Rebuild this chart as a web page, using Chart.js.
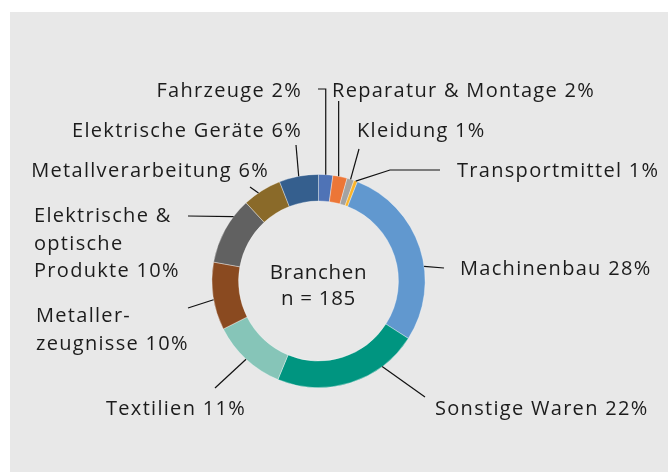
<!DOCTYPE html>
<html>
<head>
<meta charset="utf-8">
<script src="https://cdn.jsdelivr.net/npm/chart.js@4.4.1/dist/chart.umd.min.js"></script>
<style>
  html, body { margin: 0; padding: 0; background: #ffffff; }
  #wrap { position: relative; width: 668px; height: 472px; }
</style>
</head>
<body>
<div id="wrap"><canvas id="branchenChart" width="668" height="472"></canvas></div>
<script>
  // ---- DATA ----
  const branchen = ['Fahrzeuge', 'Reparatur & Montage', 'Kleidung', 'Transportmittel', 'Machinenbau',
    'Sonstige Waren', 'Textilien', 'Metallerzeugnisse', 'Elektrische & optische Produkte',
    'Metallverarbeitung', 'Elektrische Geräte'];
  const anzahl = [4, 4, 2, 1, 52, 41, 21, 19, 19, 11, 11];   // n = 185
  const farben = ['#4f73b6', '#ec7637', '#a3a3a3', '#fbb42a', '#6198cf', '#009580',
    '#86c5b8', '#8a4a20', '#616161', '#8a6a29', '#355f8e'];
  // label text lines (percent appended from data)
  const labelZeilen = [['Fahrzeuge'], ['Reparatur & Montage'], ['Kleidung'], ['Transportmittel'],
    ['Machinenbau'], ['Sonstige Waren'], ['Textilien'], ['Metaller-', 'zeugnisse'],
    ['Elektrische &', 'optische', 'Produkte'], ['Metallverarbeitung'], ['Elektrische Geräte']];
  const centerText = ['Branchen', 'n = 185'];

  // ---- LAYOUT (label positions, leader elbows) ----
  // align, x, first baseline, t = where on the slice the leader starts, pts = elbows (null x = keep x)
  const labelPos = [
    { align: 'right', x: 302, y: 97,  t: 0.5,  pts: [[null, 89], [318, 89]] },
    { align: 'left',  x: 332, y: 97,  t: 0.4,  pts: [[null, 101]] },
    { align: 'left',  x: 357, y: 137, t: 0.5,  pts: [[359, 149]] },
    { align: 'left',  x: 457, y: 177, t: 0.5,  pts: [[390, 170], [440, 170]] },
    { align: 'left',  x: 460, y: 275, t: 0.6,  pts: [[444, 268]] },
    { align: 'left',  x: 435, y: 415, t: 0.26, pts: [[425, 397]] },
    { align: 'right', x: 246, y: 415, t: 0.5,  pts: [[215, 388]] },
    { align: 'left',  x: 36,  y: 322, t: 0.45, pts: [[188, 308]] },
    { align: 'left',  x: 34,  y: 222, t: 0.73, pts: [[188, 216]] },
    { align: 'right', x: 269, y: 177, t: 0.4,  pts: [[250, 187]] },
    { align: 'right', x: 302, y: 137, t: 0.5,  pts: [[296, 145]] }
  ];
  const FONT = '20px "Open Sans", sans-serif';
  const LINE_H = 27.5;

  const total = anzahl.reduce((a, b) => a + b, 0);

  const bgPlugin = {
    id: 'bg',
    beforeDraw(chart) {
      const c = chart.ctx;
      c.save();
      c.fillStyle = '#e8e8e8';
      c.fillRect(10, 12, chart.width - 10, chart.height - 12);
      c.restore();
    }
  };

  const labelPlugin = {
    id: 'labels',
    afterDatasetsDraw(chart) {
      const c = chart.ctx;
      const arcs = chart.getDatasetMeta(0).data;
      c.save();
      // leader lines
      c.strokeStyle = '#111111';
      c.lineWidth = 1.2;
      arcs.forEach((arc, i) => {
        const p = labelPos[i];
        const ang = arc.startAngle + (arc.endAngle - arc.startAngle) * p.t;
        let x = arc.x + Math.cos(ang) * arc.outerRadius;
        let y = arc.y + Math.sin(ang) * arc.outerRadius;
        c.beginPath();
        c.moveTo(x, y);
        p.pts.forEach(pt => {
          if (pt[0] !== null) x = pt[0];
          y = pt[1];
          c.lineTo(x, y);
        });
        c.stroke();
      });
      // label texts
      c.fillStyle = '#1c1c1c';
      c.font = FONT;
      c.letterSpacing = '1.3px';
      c.textBaseline = 'alphabetic';
      arcs.forEach((arc, i) => {
        const p = labelPos[i];
        const pct = Math.round(anzahl[i] / total * 100) + '%';
        const lines = labelZeilen[i].slice();
        lines[lines.length - 1] += ' ' + pct;
        c.textAlign = p.align;
        lines.forEach((ln, k) => c.fillText(ln, p.x, p.y + k * LINE_H));
      });
      // center text
      const cx = arcs[0].x, cy = arcs[0].y;
      c.font = '20.5px "Open Sans", sans-serif';
      c.letterSpacing = '0.7px';
      c.textAlign = 'center';
      c.fillText(centerText[0], cx, cy - 2);
      c.fillText(centerText[1], cx, cy + 24);
      c.restore();
    }
  };

  new Chart(document.getElementById('branchenChart').getContext('2d'), {
    type: 'doughnut',
    data: {
      labels: branchen,
      datasets: [{
        data: anzahl,
        backgroundColor: farben,
        borderColor: 'rgba(255,255,255,0.45)',
        borderWidth: 0.8,
        hoverOffset: 0
      }]
    },
    options: {
      responsive: false,
      animation: false,
      cutout: '75%',
      rotation: 0,
      layout: { padding: { left: 211, right: 242, top: 174, bottom: 84 } },
      plugins: { legend: { display: false }, tooltip: { enabled: false } }
    },
    plugins: [bgPlugin, labelPlugin]
  });
</script>
</body>
</html>
